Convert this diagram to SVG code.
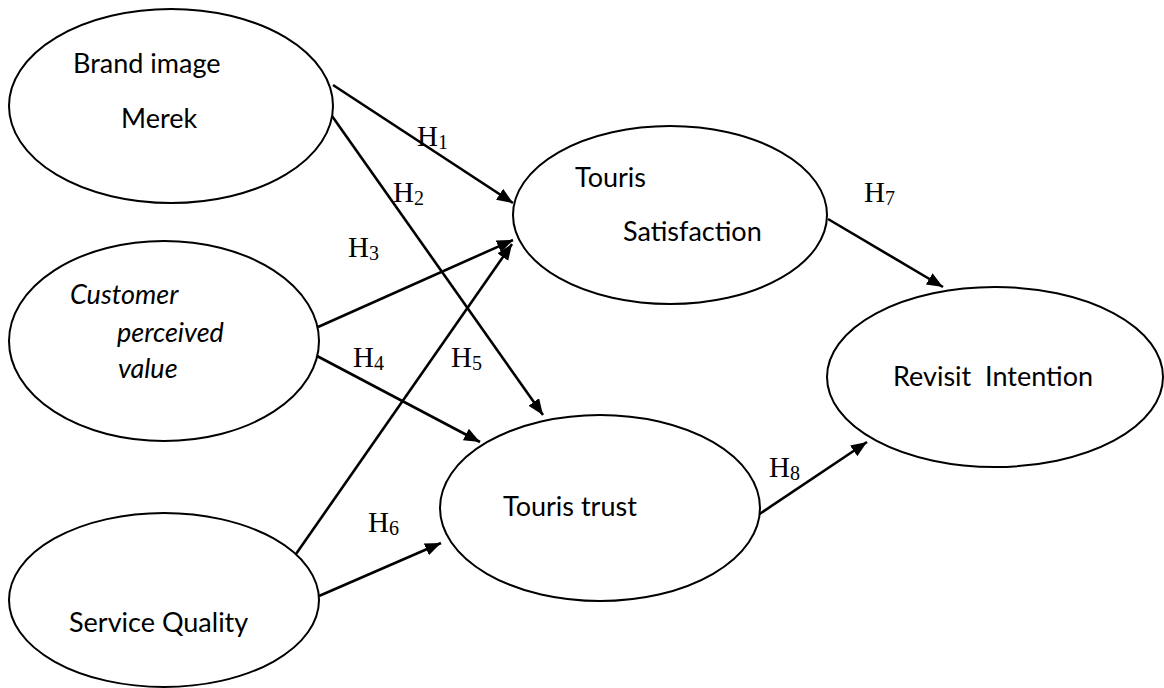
<svg xmlns="http://www.w3.org/2000/svg" width="1164" height="688" viewBox="0 0 1164 688">
<style>
.node ellipse{fill:#fff;stroke:#000;stroke-width:2}
.lbl{font-family:Lato,"Open Sans","DejaVu Sans",sans-serif;font-size:27px;fill:#000;white-space:pre}
.it{font-style:italic}
.h{font-family:"Liberation Serif","Times New Roman",serif;font-size:29px;fill:#000}
.h tspan{font-size:20px}
.edge line{stroke:#000;stroke-width:2.6;marker-end:url(#ah)}
</style>
<defs>
<marker id="ah" markerUnits="userSpaceOnUse" markerWidth="17" markerHeight="14" refX="16" refY="6.5" orient="auto">
<path d="M0,0 L16,6.5 L0,13 z" fill="#000"/>
</marker>
</defs>
<rect width="1164" height="688" fill="#fff"/>
<g id="connectors" class="edge">
<line x1="333" y1="85" x2="513" y2="203"/>
<line x1="332" y1="116" x2="543" y2="415"/>
<line x1="318" y1="327" x2="513" y2="240"/>
<line x1="317" y1="356" x2="480" y2="442"/>
<line x1="296" y1="554" x2="512" y2="244"/>
<line x1="319" y1="596" x2="441" y2="543"/>
<line x1="828" y1="219" x2="943" y2="287"/>
<line x1="758" y1="515" x2="867" y2="442"/>
</g>
<g id="brand" class="node">
<ellipse cx="171" cy="106" rx="162" ry="97"/>
<text class="lbl" x="73" y="73">Brand image</text>
<text class="lbl" x="121" y="128">Merek</text>
</g>
<g id="cpv" class="node">
<ellipse cx="164" cy="341" rx="155" ry="100"/>
<text class="lbl it" x="70" y="304">Customer</text>
<text class="lbl it" x="117" y="342">perceived</text>
<text class="lbl it" x="118" y="378">value</text>
</g>
<g id="service" class="node">
<ellipse cx="164" cy="600" rx="155" ry="87"/>
<text class="lbl" x="69" y="632">Service Quality</text>
</g>
<g id="satisfaction" class="node">
<ellipse cx="670" cy="215" rx="157" ry="89"/>
<text class="lbl" x="575" y="187">Touris</text>
<text class="lbl" x="623" y="241">Satisfaction</text>
</g>
<g id="trust" class="node">
<ellipse cx="600" cy="508" rx="160" ry="93"/>
<text class="lbl" x="503" y="516">Touris trust</text>
</g>
<g id="revisit" class="node">
<ellipse cx="995" cy="377" rx="168" ry="90"/>
<text class="lbl" x="893" y="386" xml:space="preserve">Revisit  Intention</text>
</g>
<g id="labels">
<text class="h" x="417" y="146">H<tspan dy="3">1</tspan></text>
<text class="h" x="393" y="202">H<tspan dy="3">2</tspan></text>
<text class="h" x="348" y="257">H<tspan dy="3">3</tspan></text>
<text class="h" x="353" y="367">H<tspan dy="3">4</tspan></text>
<text class="h" x="451" y="367">H<tspan dy="3">5</tspan></text>
<text class="h" x="368" y="532">H<tspan dy="3">6</tspan></text>
<text class="h" x="864" y="202">H<tspan dy="3">7</tspan></text>
<text class="h" x="769" y="477">H<tspan dy="3">8</tspan></text>
</g>
</svg>
